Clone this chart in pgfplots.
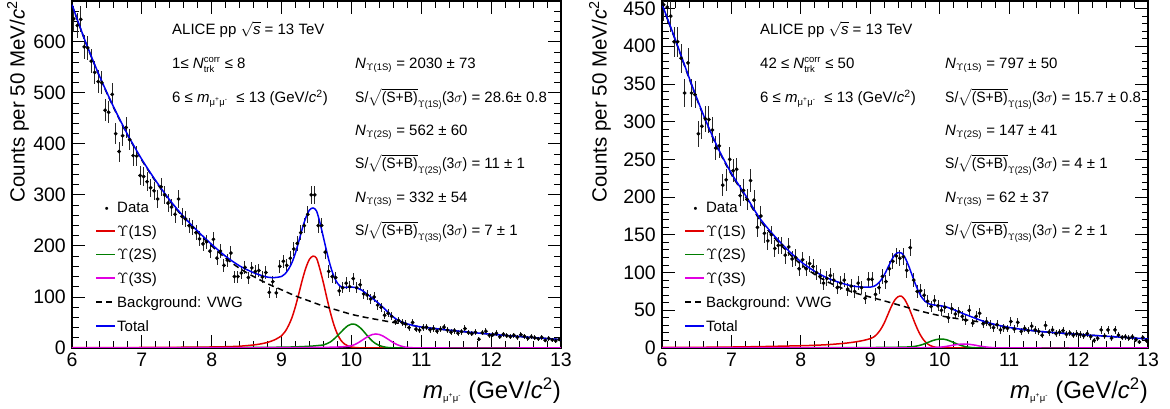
\documentclass[border=0pt]{standalone}
\usepackage{fix-cm}
\usepackage{fontspec}
\setmainfont{Liberation Sans}
\usepackage{amsmath}
\usepackage{graphicx}
\usepackage{pgfplots}
\usepackage{pgfplotstable}
\pgfplotsset{compat=1.18}

\definecolor{fitred}{RGB}{225,0,0}
\definecolor{fitgreen}{RGB}{0,125,0}
\definecolor{fitmag}{RGB}{225,0,225}
\definecolor{fitblue}{RGB}{0,0,240}
\newcommand{\tsz}{\fontsize{15}{18}\selectfont}
\newcommand{\ssub}[1]{\text{\fontsize{9.5}{10}\selectfont #1}}
\newcommand{\sob}[2]{\scalebox{0.93}[1]{S/${\sqrt{\text{(S+B)}}}_{\ssub{$\Upsilon$(#1)}}$(3$\sigma$)} = #2}
% legend keys set as text
\newcommand{\lkey}[1]{\textcolor{#1}{\rule[4.6pt]{19pt}{1.6pt}}\hspace{2pt}}
\newcommand{\dkey}{\rule[4.6pt]{6pt}{1.6pt}\hspace{4pt}\rule[4.6pt]{6pt}{1.6pt}\hspace{5pt}}
\newcommand{\pkey}{\makebox[21pt][c]{\fontsize{11}{11}\selectfont •}}

% ---- left panel: 1 <= N_trk <= 8 ----
\pgfplotstableread{
m y e
6.025 645 25.4
6.075 632 25.1
6.125 644 25.4
6.175 590 24.3
6.225 588 24.2
6.275 562 23.7
6.325 540 23.2
6.375 522 22.8
6.425 520 22.8
6.475 466 21.6
6.525 462 21.5
6.575 497 22.3
6.625 420 20.5
6.675 385 19.6
6.725 416 20.4
6.775 432 20.8
6.825 408 20.2
6.875 377 19.4
6.925 376 19.4
6.975 338 18.4
7.025 336 18.3
7.075 326 18.1
7.125 314 17.7
7.175 308 17.5
7.225 292 17.1
7.275 316 17.8
7.325 300 17.3
7.375 284 16.9
7.425 276 16.6
7.475 262 16.2
7.525 292 17.1
7.575 258 16.1
7.625 253 15.9
7.675 240 15.5
7.725 236 15.4
7.775 226 15.0
7.825 214 14.6
7.875 204 14.3
7.925 208 14.4
7.975 190 13.8
8.025 213 14.6
8.075 176 13.3
8.125 190 13.8
8.175 162 12.7
8.225 172 13.1
8.275 186 13.6
8.325 140 11.8
8.375 140 11.8
8.425 147 12.1
8.475 158 12.6
8.525 138 11.7
8.575 157 12.5
8.625 150 12.2
8.675 152 12.3
8.725 139 11.8
8.775 148 12.2
8.825 109 10.4
8.875 130 11.4
8.925 108 10.4
8.975 160 12.6
9.025 170 13.0
9.075 162 12.7
9.125 176 13.3
9.175 194 13.9
9.225 205 14.3
9.275 226 15.0
9.325 240 15.5
9.375 262 16.2
9.425 300 17.3
9.475 300 17.3
9.525 240 15.5
9.575 240 15.5
9.625 188 13.7
9.675 150 12.2
9.725 140 11.8
9.775 138 11.7
9.825 112 10.6
9.875 118 10.9
9.925 127 11.3
9.975 120 11.0
10.025 136 11.7
10.075 118 10.9
10.125 124 11.1
10.175 106 10.3
10.225 104 10.2
10.275 96 9.8
10.325 100 10.0
10.375 84 9.2
10.425 80 8.9
10.475 64 8.0
10.525 68 8.2
10.575 62 7.9
10.625 52 7.2
10.675 54 7.3
10.725 50 7.1
10.775 47 6.9
10.825 40 6.3
10.875 50 7.1
10.925 37 6.1
10.975 35 5.9
11.025 40 6.3
11.075 41 6.4
11.125 36 6.0
11.175 38 6.2
11.225 33 5.7
11.275 37 6.1
11.325 41 6.4
11.375 35 5.9
11.425 31 5.6
11.475 34 5.8
11.525 29 5.4
11.575 32 5.7
11.625 38 6.2
11.675 30 5.5
11.725 28 5.3
11.775 31 5.6
11.825 17 4.1
11.875 30 5.5
11.925 33 5.7
11.975 25 5.0
12.025 26 5.1
12.075 29 5.4
12.125 22 4.7
12.175 27 5.2
12.225 24 4.9
12.275 22 4.7
12.325 25 5.0
12.375 21 4.6
12.425 26 5.1
12.475 23 4.8
12.525 19 4.4
12.575 22 4.7
12.625 20 4.5
12.675 18 4.2
12.725 21 4.6
12.775 15 3.9
12.825 19 4.4
12.875 16 4.0
12.925 14 3.7
12.975 17 4.1
}\dataL

\pgfplotstableread{
m y
6.0 0.5
6.5 0.75
7.0 1.0
7.5 1.4
8.0 2.0
8.2 2.5
8.4 3.5
8.6 6
8.7 8
8.8 11
8.9 16
9.0 24
9.05 32
9.1 44
9.15 60
9.2 82
9.25 108
9.3 135
9.35 158
9.4 174
9.45 180
9.5 176
9.55 154
9.6 127
9.65 97
9.7 69
9.75 45
9.8 27
9.85 15
9.9 8
9.95 4
10.0 2
10.05 1
10.1 0.5
10.2 0.2
10.3 0.1
10.5 0
13.0 0
}\onesL

\pgfplotstableread{
m y
6.0 0.1
7.0 0.3
8.0 0.7
8.4 0.9
8.8 1.3
9.0 1.6
9.2 2.2
9.4 3.4
9.5 4.5
9.55 5.2
9.6 6.0
9.65 8.5
9.7 12
9.75 17.5
9.8 24
9.85 31
9.9 38
9.95 43.8
10.0 46.8
10.05 46.5
10.1 42.5
10.15 36.5
10.2 28.5
10.25 20.5
10.3 13.5
10.35 8.3
10.4 4.8
10.45 2.7
10.5 1.3
10.55 0.6
10.6 0.3
10.7 0.1
10.8 0
13.0 0
}\twosL

\pgfplotstableread{
m y
6.0 0.1
7.0 0.15
8.0 0.3
9.0 0.6
9.5 1.1
9.7 1.5
9.8 1.9
9.85 2.2
9.9 2.6
9.95 3.3
10.0 4.5
10.05 6.8
10.1 10.5
10.15 14.9
10.2 19.4
10.25 23.6
10.3 26.4
10.35 27.5
10.4 26.4
10.45 23.6
10.5 19.4
10.55 14.9
10.6 10.5
10.65 6.8
10.7 4.2
10.75 2.3
10.8 1.2
10.9 0.3
11.0 0.1
11.2 0
13.0 0
}\threesL

\pgfplotstableread{
m y
6.0 672
6.2 597
6.4 530
6.6 470
6.8 416
7.0 368
7.2 326
7.4 288
7.6 255
7.8 226
8.0 200
8.2 176
8.4 156
8.6 140
8.8 126
9.0 114
9.2 102
9.4 92
9.6 82
9.8 74
10.0 66
10.2 60
10.4 55
10.6 50
10.8 46
11.0 41
11.2 38
11.5 33.5
12.0 27
12.5 21.5
13.0 16.5
}\bkgL

\pgfplotstableread{
m y
6.0 672.7
6.2 597.8
6.4 531
6.6 471.1
6.8 417.3
7.0 369.5
7.2 327.6
7.4 289.9
7.6 257.2
7.8 228.9
8.0 203
8.2 179.6
8.4 160.8
8.6 147.5
8.7 142.7
8.8 138.8
8.9 138
9.0 140.2
9.05 145.3
9.1 154.5
9.15 167.7
9.2 187
9.25 210.7
9.3 235.6
9.35 256.4
9.4 270.4
9.45 274.4
9.5 268.6
9.55 245.2
9.6 216.3
9.65 186.9
9.7 160.5
9.75 140.2
9.8 126.9
9.85 120.2
9.9 118.6
9.95 119.1
10.0 119.3
10.05 118.8
10.1 116.5
10.15 113.2
10.2 108.1
10.25 102.9
10.3 97.5
10.35 92
10.4 86.2
10.45 80
10.5 73.2
10.55 66.7
10.6 60.8
10.65 55.9
10.7 52.2
10.8 47.2
10.9 43.8
11.0 41.1
11.2 38
11.5 33.5
12.0 27
12.5 21.5
13.0 16.5
}\totL

% ---- right panel: 42 <= N_trk <= 50 ----
\pgfplotstableread{
m y e
6.025 455 21.3
6.075 452 21.3
6.125 440 21.0
6.175 406 20.1
6.225 406 20.1
6.275 384 19.6
6.325 338 18.4
6.375 378 19.4
6.425 338 18.4
6.475 336 18.3
6.525 284 16.9
6.575 294 17.1
6.625 304 17.4
6.675 303 17.4
6.725 289 17.0
6.775 265 16.3
6.825 268 16.4
6.875 216 14.7
6.925 223 14.9
6.975 250 15.8
7.025 235 15.3
7.075 237 15.4
7.125 202 14.2
7.175 209 14.5
7.225 197 14.0
7.275 222 14.9
7.325 196 14.0
7.375 160 12.6
7.425 175 13.2
7.475 152 12.3
7.525 142 11.9
7.575 150 12.2
7.625 132 11.5
7.675 136 11.7
7.725 136 11.7
7.775 123 11.1
7.825 134 11.6
7.875 118 10.9
7.925 120 11.0
7.975 105 10.2
8.025 117 10.8
8.075 105 10.2
8.125 112 10.6
8.175 108 10.4
8.225 100 10.0
8.275 95 9.7
8.325 86 9.3
8.375 92 9.6
8.425 96 9.8
8.475 90 9.5
8.525 80 8.9
8.575 86 9.3
8.625 90 9.5
8.675 78 8.8
8.725 82 9.1
8.775 75 8.7
8.825 86 9.3
8.875 80 8.9
8.925 66 8.1
8.975 91 9.5
9.025 91 9.5
9.075 71 8.4
9.125 80 8.9
9.175 95 9.7
9.225 88 9.4
9.275 105 10.2
9.325 115 10.7
9.375 122 11.0
9.425 119 10.9
9.475 121 11.0
9.525 103 10.1
9.575 133 11.5
9.625 90 9.5
9.675 75 8.7
9.725 76 8.7
9.775 70 8.4
9.825 62 7.9
9.875 55 7.4
9.925 63 7.9
9.975 56 7.5
10.025 50 7.1
10.075 54 7.3
10.125 40 6.3
10.175 52 7.2
10.225 45 6.7
10.275 48 6.9
10.325 42 6.5
10.375 37 6.1
10.425 50 7.1
10.475 33 5.7
10.525 42 6.5
10.575 46 6.8
10.625 32 5.7
10.675 35 5.9
10.725 31 5.6
10.775 27 5.2
10.825 31 5.6
10.875 24 4.9
10.925 27 5.2
10.975 26 5.1
11.025 35 5.9
11.075 25 5.0
11.125 34 5.8
11.175 22 4.7
11.225 26 5.1
11.275 23 4.8
11.325 29 5.4
11.375 24 4.9
11.425 22 4.7
11.475 17 4.1
11.525 30 5.5
11.575 21 4.6
11.625 24 4.9
11.675 19 4.4
11.725 21 4.6
11.775 23 4.8
11.825 18 4.2
11.875 20 4.5
11.925 17 4.1
11.975 19 4.4
12.025 18 4.2
12.075 16 4.0
12.125 19 4.4
12.175 15 3.9
12.225 10 3.2
12.275 13 3.6
12.325 24 4.9
12.375 16 4.0
12.425 24 4.9
12.475 13 3.6
12.525 24 4.9
12.575 17 4.1
12.625 14 3.7
12.675 15 3.9
12.725 13 3.6
12.775 15 3.9
12.825 11 3.3
12.875 8 2.8
12.925 14 3.7
12.975 10 3.2
}\dataR

\pgfplotstableread{
m y
6.0 0.7
6.5 0.9
7.0 1.3
7.5 2.0
8.0 3.0
8.2 3.6
8.4 4.5
8.6 6.0
8.7 7.0
8.8 8.3
8.9 10
9.0 12.4
9.05 14.6
9.1 18.7
9.15 24.7
9.2 33
9.25 43.6
9.3 54.4
9.35 63.2
9.4 68
9.45 68.6
9.5 63.7
9.55 54.5
9.6 43.1
9.65 31.3
9.7 21
9.75 13
9.8 7.4
9.85 3.9
9.9 1.9
9.95 0.8
10.0 0.3
10.1 0.1
10.2 0
13.0 0
}\onesR

\pgfplotstableread{
m y
6.0 0.1
7.0 0.15
8.0 0.3
8.5 0.45
9.0 0.6
9.2 0.8
9.4 1.0
9.5 1.2
9.55 1.4
9.6 1.7
9.65 2.3
9.7 3.2
9.75 4.5
9.8 6.2
9.85 8.1
9.9 9.9
9.95 11.2
10.0 11.9
10.05 11.8
10.1 10.9
10.15 9.2
10.2 7.3
10.25 5.3
10.3 3.6
10.35 2.2
10.4 1.3
10.45 0.7
10.5 0.35
10.6 0.1
10.7 0
13.0 0
}\twosR

\pgfplotstableread{
m y
6.0 0.05
8.0 0.1
9.0 0.15
9.5 0.25
9.8 0.35
9.85 0.42
9.9 0.5
9.95 0.7
10.0 1.1
10.05 1.5
10.1 2.2
10.15 3.0
10.2 3.9
10.25 4.6
10.3 5.1
10.35 5.3
10.4 5.1
10.45 4.6
10.5 3.9
10.55 3.0
10.6 2.2
10.65 1.5
10.7 1.0
10.75 0.6
10.8 0.3
10.9 0.05
11.0 0
13.0 0
}\threesR

\pgfplotstableread{
m y
6.0 455
6.2 406
6.4 355
6.6 307
6.8 265
7.0 230
7.2 201
7.4 171
7.6 148
7.8 128
8.0 111
8.2 97.5
8.4 87
8.6 79
8.8 72.5
9.0 67.5
9.2 62.5
9.4 57.3
9.6 52.0
9.8 47.1
10.0 42.9
10.2 39.7
10.4 37
10.6 34.1
10.8 30.8
11.0 27.3
11.2 24.5
11.5 21.5
12.0 18
12.5 15
13.0 12
}\bkgR

\pgfplotstableread{
m y
6.0 455.9
6.2 406.9
6.4 356
6.6 308.2
6.8 266.3
7.0 231.5
7.2 202.8
7.4 173.1
7.6 150.5
7.8 131
8.0 114.4
8.2 101.6
8.4 92
8.6 85.6
8.7 83.1
8.8 81.4
8.9 80.7
9.0 80.7
9.05 81.7
9.1 84.6
9.15 89.4
9.2 96.5
9.25 105.9
9.3 115.5
9.35 123.1
9.4 126.5
9.45 125.9
9.5 119.8
9.55 109.5
9.6 97.1
9.65 84.6
9.7 74
9.75 66.1
9.8 61.1
9.85 58.4
9.9 57.2
9.95 56.6
10.0 56.2
10.05 55.4
10.1 54.3
10.15 52.6
10.2 50.9
10.25 48.9
10.3 47
10.35 45.1
10.4 43.4
10.45 41.6
10.5 39.9
10.55 38.1
10.6 36.4
10.65 34.8
10.7 33.5
10.8 31.1
10.9 29
11.0 27.3
11.2 24.5
11.5 21.5
12.0 18
12.5 15
13.0 12
}\totR

\pgfplotsset{
  ups/.style={
    scale only axis, height=347pt,
    xmin=6, xmax=13, ymin=0,
    xtick={6,...,13}, minor x tick num=4, minor y tick num=4,
    major tick length=13pt, minor tick length=6.5pt,
    axis line style={line width=1.1pt},
    every tick/.style={black, line width=0.9pt},
    tick label style={font=\fontsize{19.5}{20}\selectfont},
    /pgf/number format/assume math mode=true,
    xticklabel style={inner sep=0pt, yshift=-5pt},
    yticklabel style={inner sep=0pt, xshift=-6pt},
    xlabel={\textit{m}$_{\ssub{μ\textsuperscript{+}μ\textsuperscript{-}}}$ (GeV/\textit{c}\textsuperscript{2})},
    xlabel style={font=\fontsize{24}{26}\selectfont, at={(axis description cs:1,-0.085)}, anchor=north east, inner sep=0pt},
    ylabel={Counts per 50 MeV/\textit{c}\textsuperscript{2}},
    legend cell align=left,
    legend style={draw=none, fill=none, font=\tsz, inner sep=0pt, anchor=north west,
      row sep=7.4pt, column sep=0pt},
  },
  dat/.style={only marks, mark=*, mark size=1.7pt, color=black,
    error bars/y dir=both, error bars/y explicit, error bars/error mark=none,
    error bars/error bar style={line width=0.9pt, black!85}},
  crv/.style={no marks, smooth, line width=1.5pt, forget plot},
  nokey/.style={legend image code/.code={}},
}

% legend: the keys are typeset inside the entry text
\newcommand{\fitlegend}{%
  \addlegendimage{nokey}
  \addlegendentry{\pkey Data}
  \addlegendimage{nokey}
  \addlegendentry{\lkey{fitred}$\Upsilon$(1S)}
  \addlegendimage{nokey}
  \addlegendentry{\lkey{fitgreen}$\Upsilon$(2S)}
  \addlegendimage{nokey}
  \addlegendentry{\lkey{fitmag}$\Upsilon$(3S)}
  \addlegendimage{nokey}
  \addlegendentry{\dkey Background: VWG}
  \addlegendimage{nokey}
  \addlegendentry{\lkey{fitblue}Total}}

\begin{document}
\begin{tikzpicture}
\useasboundingbox (0,0) rectangle (1170pt,409pt);

\begin{axis}[ups, at={(72pt,61pt)}, anchor=south west, width=489pt,
  ymax=680, ytick distance=100,
  ylabel style={font=\fontsize{20.5}{22}\selectfont, at={(axis description cs:-0.088,1)}, anchor=south east, inner sep=0pt},
  legend style={at={(axis description cs:0.045,0.427)}}]
\addplot[forget plot, dat] table[x=m, y=y, y error=e] {\dataL};
\addplot[crv, color=fitred] table[x=m, y=y] {\onesL};
\addplot[crv, color=fitgreen] table[x=m, y=y] {\twosL};
\addplot[crv, color=fitmag] table[x=m, y=y] {\threesL};
\addplot[crv, color=black, dash pattern=on 6pt off 4pt] table[x=m, y=y] {\bkgL};
\addplot[crv, color=fitblue] table[x=m, y=y] {\totL};
\fitlegend
\end{axis}

\begin{axis}[ups, at={(662pt,61pt)}, anchor=south west, width=486pt,
  ymax=460, ytick distance=50,
  ylabel style={font=\fontsize{20.5}{22}\selectfont, at={(axis description cs:-0.105,1)}, anchor=south east, inner sep=0pt},
  legend style={at={(axis description cs:0.043,0.427)}}]
\addplot[forget plot, dat] table[x=m, y=y, y error=e] {\dataR};
\addplot[crv, color=fitred] table[x=m, y=y] {\onesR};
\addplot[crv, color=fitgreen] table[x=m, y=y] {\twosR};
\addplot[crv, color=fitmag] table[x=m, y=y] {\threesR};
\addplot[crv, color=black, dash pattern=on 6pt off 4pt] table[x=m, y=y] {\bkgR};
\addplot[crv, color=fitblue] table[x=m, y=y] {\totR};
\fitlegend
\end{axis}

\begin{scope}[every node/.style={anchor=base west, font=\tsz, inner sep=0pt}]
% annotations, left panel
\node at (172pt,374.5pt) {ALICE pp $\sqrt{\textit{s}}$ = 13 TeV};
\node at (172pt,340.5pt) {1≤ ${\textit{N}}^{\ssub{corr}}_{\ssub{trk}}$ ≤ 8};
\node at (172pt,306.5pt) {6 ≤ \textit{m}$_{\ssub{μ\textsuperscript{+}μ\textsuperscript{-}}}$ \ ≤ 13 (GeV/\textit{c}\textsuperscript{2})};
\node at (355pt,340.5pt) {\textit{N}$_{\ssub{$\Upsilon$(1S)}}$ = 2030 ± 73};
\node at (355pt,306.5pt) {\sob{1S}{28.6± 0.8}};
\node at (355pt,273.5pt) {\textit{N}$_{\ssub{$\Upsilon$(2S)}}$ = 562 ± 60};
\node at (355pt,240.5pt) {\sob{2S}{11 ± 1}};
\node at (355pt,206.5pt) {\textit{N}$_{\ssub{$\Upsilon$(3S)}}$ = 332 ± 54};
\node at (355pt,173.5pt) {\sob{3S}{7 ± 1}};
% annotations, right panel
\node at (760pt,374.5pt) {ALICE pp $\sqrt{\textit{s}}$ = 13 TeV};
\node at (760pt,340.5pt) {42 ≤ ${\textit{N}}^{\ssub{corr}}_{\ssub{trk}}$ ≤ 50};
\node at (760pt,306.5pt) {6 ≤ \textit{m}$_{\ssub{μ\textsuperscript{+}μ\textsuperscript{-}}}$ \ ≤ 13 (GeV/\textit{c}\textsuperscript{2})};
\node at (945pt,340.5pt) {\textit{N}$_{\ssub{$\Upsilon$(1S)}}$ = 797 ± 50};
\node at (945pt,306.5pt) {\sob{1S}{15.7 ± 0.8}};
\node at (945pt,273.5pt) {\textit{N}$_{\ssub{$\Upsilon$(2S)}}$ = 147 ± 41};
\node at (945pt,240.5pt) {\sob{2S}{4 ± 1}};
\node at (945pt,206.5pt) {\textit{N}$_{\ssub{$\Upsilon$(3S)}}$ = 62 ± 37};
\node at (945pt,173.5pt) {\sob{3S}{2 ± 1}};
\end{scope}
\end{tikzpicture}
\end{document}
